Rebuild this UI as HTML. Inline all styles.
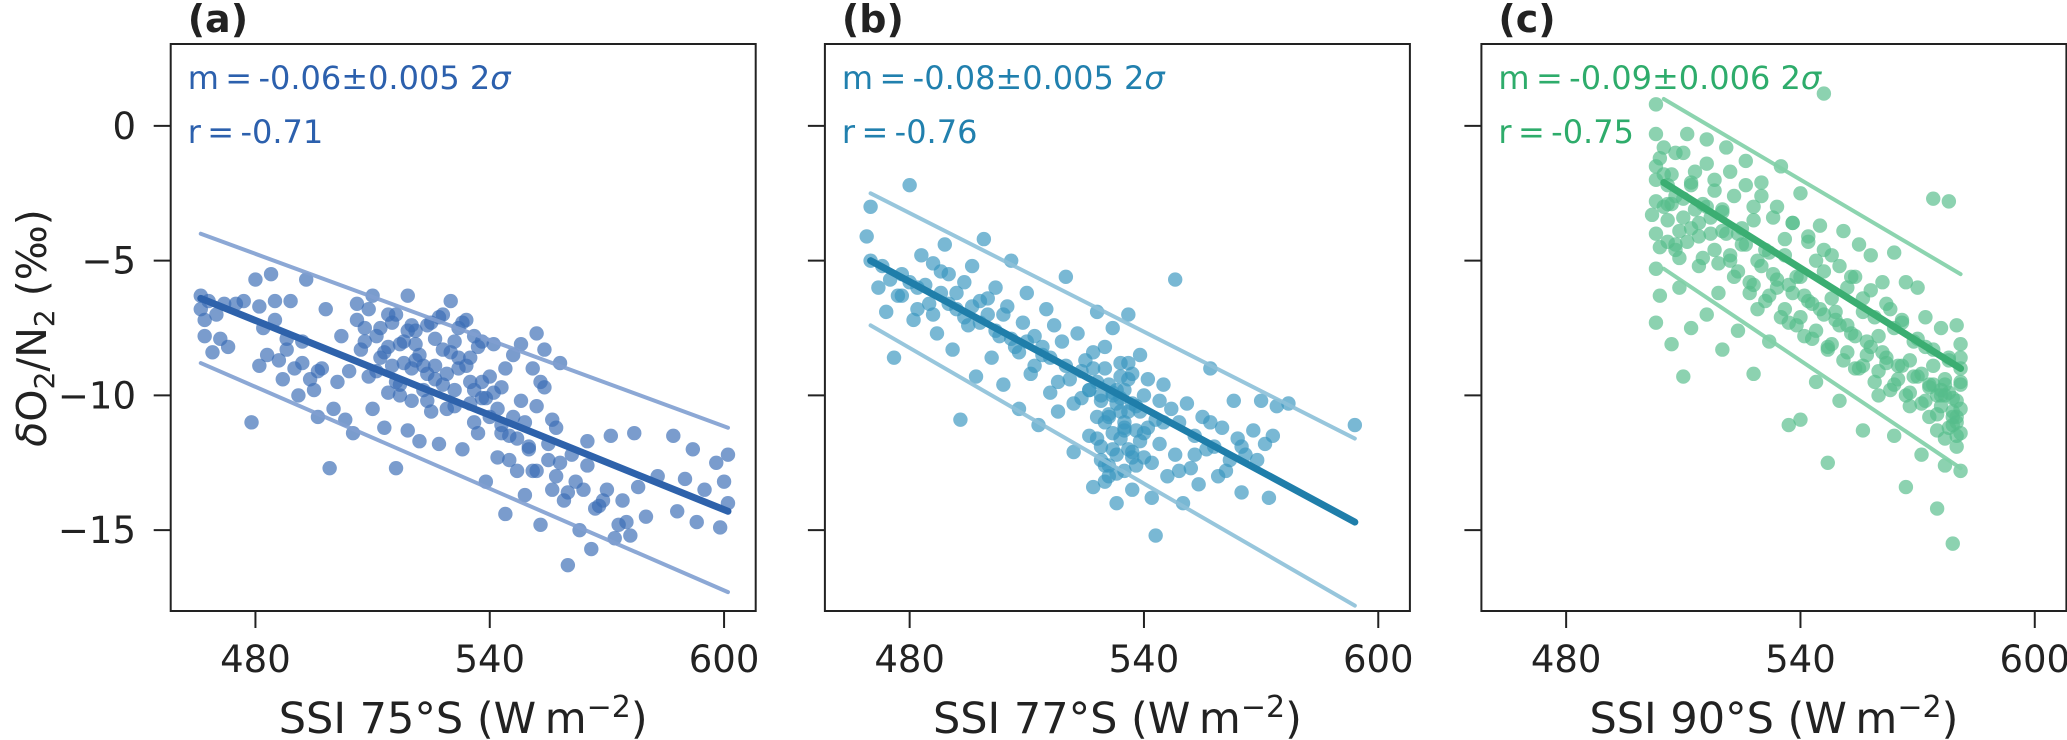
<!DOCTYPE html>
<html><head><meta charset="utf-8"><style>
html,body{margin:0;padding:0;background:#fff;}
svg{display:block;font-family:"DejaVu Sans","Liberation Sans",sans-serif;}
</style></head><body>
<svg id="chart" width="2067" height="740" viewBox="0 0 2067 740" xmlns="http://www.w3.org/2000/svg"></svg>
<script>
// ---------- data ----------
const xTicks = [480, 540, 600];
const yTicks = [0, -5, -10, -15];
const panelLabels = ["(a)", "(b)", "(c)"];
const xTitles = ["SSI 75°S", "SSI 77°S", "SSI 90°S"];
const slopeTexts = ["-0.06±0.005", "-0.08±0.005", "-0.09±0.006"];
const rTexts = ["-0.71", "-0.76", "-0.75"];

// fit lines: [x0, x1, y0, y1]
const fitA = [466, 601, -6.4, -14.3];
const upA = [466, 601, -4.0, -11.2];
const loA = [466, 601, -8.8, -17.3];
const fitB = [470, 594, -5.0, -14.7];
const upB = [470, 594, -2.5, -11.6];
const loB = [470, 594, -7.4, -17.8];
const fitC = [505, 581, -2.1, -9.0];
const upC = [505, 581, 1.0, -5.5];
const loC = [505, 581, -5.3, -12.7];

const xA = [466,466,467,467,468,469,470,471,472,473,475,477,479,480,481,481,482,483,484,485,486,487,488,489,490,491,492,493,494,495,496,497,498,499,500,501,502,503,504,505,506,507,508,509,510,510,511,512,513,514,515,516,517,518,519,519,520,521,522,523,524,525,526,527,528,529,530,531,532,533,534,535,536,537,538,539,540,541,542,543,544,545,546,547,548,549,550,551,552,553,554,555,556,557,559,560,561,563,564,565,566,567,569,571,572,574,575,576,577,578,580,583,587,588,590,592,593,595,598,599,600,601,601,
512,514,516,518,520,522,524,526,528,530,532,534,536,538,540,542,544,546,548,550,552,554,556,558,558,560,515,517,521,527,531,535,539,543,547,551,553,
506,508,509,511,513,514,516,517,519,520,521,523,524,525,526,528,529,531,532,533,535,536,537,538,541,543,545,549,552,555,557,562,565,568,570,573,485,488,492,496];
const yA = [-6.3,-6.8,-7.2,-7.8,-6.5,-8.4,-7.0,-7.9,-6.6,-8.2,-6.6,-6.5,-11.0,-5.7,-6.7,-8.9,-7.5,-8.5,-5.5,-6.5,-8.7,-9.4,-7.9,-6.5,-9.0,-10.0,-8.8,-5.7,-9.4,-9.8,-10.8,-9.0,-6.8,-12.7,-10.5,-9.5,-7.8,-10.9,-9.1,-11.4,-6.6,-8.3,-7.5,-9.3,-10.5,-6.3,-7.8,-8.6,-11.2,-9.9,-7.3,-12.7,-10.0,-8.0,-6.3,-11.3,-9.0,-7.6,-11.7,-8.9,-10.2,-7.3,-9.4,-11.8,-8.3,-10.5,-6.5,-9.8,-7.5,-12.0,-8.9,-10.3,-7.8,-11.4,-9.5,-13.2,-10.8,-8.1,-12.3,-9.7,-14.4,-11.5,-8.5,-12.8,-10.2,-13.7,-11.9,-9.0,-7.7,-14.8,-8.3,-12.4,-13.5,-11.2,-13.9,-16.3,-12.2,-15.0,-13.5,-11.7,-15.7,-14.2,-13.9,-11.5,-15.3,-13.9,-14.7,-15.2,-11.4,-13.4,-14.5,-13.0,-11.5,-14.3,-13.1,-12.0,-14.7,-13.5,-12.5,-14.9,-13.2,-12.2,-14.0,
-7.5,-8.2,-7.0,-8.8,-7.4,-8.5,-9.2,-7.9,-9.6,-8.4,-9.0,-7.2,-9.8,-8.0,-9.3,-10.5,-9.0,-10.8,-8.1,-12.0,-10.4,-9.7,-10.9,-8.8,-12.5,-13.6,-8.9,-9.6,-8.1,-7.1,-8.0,-8.6,-10.1,-11.1,-11.6,-12.8,-9.5,
-7.2,-8.0,-6.8,-9.1,-8.4,-7.0,-9.5,-8.1,-7.6,-10.2,-8.7,-9.8,-7.4,-10.6,-8.9,-7.0,-9.2,-10.4,-8.6,-7.3,-9.5,-11.0,-8.2,-10.1,-9.9,-11.4,-12.4,-11.0,-12.8,-11.8,-13.0,-13.2,-12.6,-14.1,-13.5,-14.8,-7.2,-8.3,-8.0,-9.1];

const xB = [470,469,470,472,473,474,475,476,477,478,480,481,482,483,485,486,487,488,489,490,491,492,493,494,495,496,497,498,499,500,501,502,503,504,505,506,507,508,509,510,511,512,513,514,515,516,517,518,519,520,521,522,523,524,525,526,527,527,528,528,529,530,530,531,531,532,532,533,533,534,534,535,535,536,536,537,537,538,539,540,540,541,542,543,543,544,545,546,547,548,548,549,550,551,552,553,554,555,556,557,558,559,560,562,563,564,565,566,568,570,571,572,573,574,577,594,
528,529,530,531,532,533,534,535,536,537,538,539,529,531,533,535,537,530,532,534,536,527,526,540,542,544,
478,480,482,484,486,488,490,492,494,496,498,500,502,504,506,508,510,512,514,516,518,520,522,524,526,528,529,530,531,532,533,534,535,536,537,538,539,541,545,549,553,557,561,565,569];
const yB = [-5.0,-4.1,-3.0,-6.0,-5.2,-6.9,-5.7,-8.6,-6.3,-5.5,-2.2,-7.2,-6.0,-4.8,-6.6,-5.1,-7.7,-6.2,-4.4,-5.5,-8.3,-6.8,-10.9,-5.8,-7.4,-5.2,-9.3,-6.5,-4.2,-7.0,-8.6,-6.0,-7.8,-9.6,-6.7,-5.0,-8.2,-10.5,-7.3,-6.2,-9.2,-7.8,-11.1,-8.5,-6.8,-9.9,-7.4,-10.6,-8.0,-5.6,-9.4,-12.1,-7.7,-10.1,-8.7,-11.5,-9.0,-13.4,-6.9,-10.8,-12.4,-8.2,-11.0,-13.0,-9.6,-7.5,-12.0,-10.3,-14.0,-8.8,-11.6,-9.8,-12.8,-10.6,-7.0,-13.5,-9.2,-11.3,-8.5,-12.3,-10.0,-9.4,-13.8,-10.9,-15.2,-11.8,-9.6,-13.0,-10.5,-5.7,-12.2,-11.0,-14.0,-10.3,-12.7,-11.5,-13.3,-10.8,-12.0,-9.0,-11.9,-13.0,-11.2,-12.4,-10.2,-11.6,-13.6,-12.2,-11.3,-10.2,-11.8,-13.8,-11.5,-10.4,-10.3,-11.1,
-9.5,-10.2,-9.0,-10.8,-11.4,-9.8,-10.6,-11.0,-9.4,-12.1,-10.4,-11.7,-11.9,-12.6,-12.9,-11.3,-12.3,-13.2,-10.0,-9.3,-8.8,-8.4,-9.8,-11.4,-12.5,-10.2,
-6.3,-5.8,-6.8,-5.9,-7.0,-5.4,-6.6,-6.2,-7.1,-6.7,-7.3,-6.4,-7.6,-7.0,-7.9,-8.4,-8.0,-8.9,-8.2,-8.6,-9.5,-8.9,-10.3,-9.1,-9.8,-11.6,-10.0,-12.6,-10.7,-9.9,-12.2,-10.1,-11.2,-12.0,-10.3,-12.6,-10.6,-11.2,-11.0,-12.8,-12.2,-11.0,-12.8,-11.9,-12.4];

const xC = [503,503,503,503,503,503,503,504,505,506,506,507,508,508,509,510,510,511,512,512,513,514,515,516,516,517,518,519,520,520,521,522,523,524,525,526,527,528,528,529,530,531,532,533,534,535,536,537,537,538,539,540,540,541,542,543,544,545,546,546,547,547,548,549,550,551,552,553,554,555,556,556,557,558,559,560,561,562,563,564,564,565,566,567,567,568,569,570,571,571,572,573,574,574,575,575,576,577,577,578,578,579,579,580,580,581,581,581,581,
504,505,506,507,508,509,510,512,514,516,518,520,522,524,526,528,530,532,534,536,538,540,542,544,546,548,550,552,554,556,558,560,562,564,566,568,570,572,574,576,578,580,581,580,579,578,577,576,575,574,573,572,570,568,566,564,562,560,558,556,554,552,550,548,546,544,542,540,538,536,534,532,530,528,526,524,522,520,518,516,514,512,510,508,506,
502,503,504,505,507,509,511,513,515,517,519,521,523,525,527,529,531,533,535,537,539,541,543,545,547,549,551,553,555,557,559,561,563,565,567,569,571,573,575,577,579,580,581,581,580,579,578,577,576,581];
const yC = [0.8,-0.3,-1.5,-2.8,-4.0,-5.3,-7.3,-6.3,-0.8,-2.2,-3.5,-8.1,-1.0,-4.6,-6.0,-2.7,-9.3,-0.3,-3.8,-7.5,-1.7,-5.2,-2.9,-0.5,-7.0,-4.0,-2.0,-6.2,-3.2,-8.3,-0.8,-5.0,-2.6,-7.6,-3.8,-1.3,-5.8,-9.2,-3.0,-6.8,-2.1,-4.6,-8.0,-3.4,-6.0,-1.5,-4.8,-11.1,-7.3,-3.6,-5.6,-10.9,-2.5,-7.8,-4.3,-6.6,-9.5,-3.7,1.2,-5.4,-12.5,-8.2,-4.8,-6.9,-10.2,-3.9,-7.4,-5.6,-9.0,-4.4,-11.3,-6.4,-8.5,-4.8,-7.1,-10.0,-5.8,-8.8,-6.8,-11.5,-4.7,-9.4,-7.3,-13.4,-5.8,-10.4,-8.0,-6.0,-12.2,-9.2,-7.1,-10.8,-2.7,-8.3,-14.2,-11.3,-7.5,-9.6,-12.6,-2.8,-8.7,-10.1,-15.5,-7.4,-11.5,-9.0,-12.8,-8.1,-10.5,
-1.2,-3.0,-4.3,-1.8,-2.6,-4.9,-3.4,-2.2,-4.1,-3.0,-4.6,-3.9,-4.8,-5.4,-4.4,-5.9,-5.2,-6.3,-5.7,-6.8,-6.2,-7.1,-6.5,-7.6,-7.0,-8.1,-7.4,-8.4,-7.8,-8.9,-8.2,-9.1,-8.6,-9.6,-8.9,-9.9,-9.3,-10.2,-9.6,-10.4,-9.9,-10.8,-9.5,-11.0,-10.6,-8.6,-11.6,-9.8,-10.0,-8.9,-9.7,-8.2,-7.9,-8.7,-7.2,-7.5,-6.6,-7.8,-6.1,-6.9,-5.6,-6.0,-5.2,-6.4,-4.6,-5.0,-4.1,-5.6,-3.6,-4.2,-3.0,-4.7,-2.6,-3.5,-2.2,-4.0,-1.7,-3.1,-2.4,-1.4,-3.6,-2.1,-1.0,-4.4,-2.9,
-3.3,-2.0,-4.5,-1.8,-2.9,-3.9,-4.3,-3.1,-4.9,-3.4,-5.1,-4.0,-5.6,-4.4,-6.2,-5.0,-6.5,-5.5,-7.1,-5.9,-7.4,-6.3,-7.9,-6.8,-8.3,-7.2,-8.7,-7.7,-9.0,-8.0,-9.5,-8.4,-9.8,-8.9,-10.0,-9.3,-10.3,-9.6,-10.7,-10.0,-11.1,-10.2,-11.4,-9.6,-11.9,-10.8,-11.2,-9.4,-10.0,-8.6];

// ---------- layout ----------
const NS = "http://www.w3.org/2000/svg";
const svg = document.getElementById("chart");
const panelLeft = [170.7, 824.9, 1481.4];
const plotTop = 44, plotBot = 611, plotW = 585;
const xMin = 458.3, xMax = 608.1, yMin = -18.0, yMax = 3.04;
const ptColors = ["#3b6db5", "#3a96c0", "#55bd8a"];
const lineColors = ["#2e62ab", "#1f7eaa", "#3bae72"];
const bandColors = ["#7f9fd0", "#8cc0d8", "#7fcfa6"];
const textColors = ["#2c60ad", "#2180ae", "#2eac6b"];
const xs = [xA, xB, xC], ys = [yA, yB, yC];
const fits = [fitA, fitB, fitC], ups = [upA, upB, upC], los = [loA, loB, loC];
const slugs = ["a", "b", "c"];

function mk(tag, attrs, parent) {
  const e = document.createElementNS(NS, tag);
  for (const k in attrs) e.setAttribute(k, attrs[k]);
  (parent || svg).appendChild(e);
  return e;
}
function sx(p, v) { return panelLeft[p] + (v - xMin) / (xMax - xMin) * plotW; }
function sy(v) { return plotBot - (v - yMin) / (yMax - yMin) * (plotBot - plotTop); }

for (let p = 0; p < 3; p++) {
  const g = mk("g", {});
  
  

  const clipId = "clip" + p;
  const cp = mk("clipPath", { id: clipId }, g);
  mk("rect", { x: panelLeft[p], y: plotTop, width: plotW, height: plotBot - plotTop }, cp);

  const pg = mk("g", { "clip-path": "url(#" + clipId + ")" }, g);
  
  
  for (let i = 0; i < xs[p].length; i++) {
    const c = mk("circle", { cx: sx(p, xs[p][i]), cy: sy(ys[p][i]), r: 7.2, fill: ptColors[p], "fill-opacity": 0.68 }, pg);
    
    
  }
  [ups[p], los[p]].forEach((L, k) => {
    const l = mk("line", { x1: sx(p, L[0]), x2: sx(p, L[1]), y1: sy(L[2]), y2: sy(L[3]), stroke: bandColors[p], "stroke-width": 4, "stroke-linecap": "round", "stroke-opacity": 0.9 }, g);
    
    
  });
  const F = fits[p];
  const fl = mk("line", { x1: sx(p, F[0]), x2: sx(p, F[1]), y1: sy(F[2]), y2: sy(F[3]), stroke: lineColors[p], "stroke-width": 7, "stroke-linecap": "round" }, g);
  
  

  const fr = mk("rect", { x: panelLeft[p], y: plotTop, width: plotW, height: plotBot - plotTop, fill: "none", stroke: "#222", "stroke-width": 2 }, g);
  
  

  xTicks.forEach(t => {
    const x = sx(p, t);
    const tk = mk("line", { x1: x, x2: x, y1: plotBot, y2: plotBot + 17, stroke: "#222", "stroke-width": 2 }, g);
    
    
    const tl = mk("text", { x: x, y: 672, "text-anchor": "middle", "font-size": 37, fill: "#222" }, g);
    tl.textContent = String(t);
    
    
  });
  yTicks.forEach(t => {
    const y = sy(t);
    const tk = mk("line", { x1: panelLeft[p] - 17, x2: panelLeft[p], y1: y, y2: y, stroke: "#222", "stroke-width": 2 }, g);
    
    
    if (p === 0) {
      const tl = mk("text", { x: 136, y: y + 13, "text-anchor": "end", "font-size": 37, fill: "#222" }, g);
      tl.textContent = t < 0 ? "\u2212" + Math.abs(t) : String(t);
      
      
    }
  });

  const xt = mk("text", { x: panelLeft[p] + plotW / 2, y: 733, "text-anchor": "middle", "font-size": 43, fill: "#222" }, g);
  
  
  xt.textContent = xTitles[p] + " (W\u2009m";
  const sup = mk("tspan", { dy: -16, "font-size": 30 }, xt);
  sup.textContent = "\u22122";
  const cl = mk("tspan", { dy: 16 }, xt);
  cl.textContent = ")";

  const pl = mk("text", { x: panelLeft[p] + 17, y: 32, "font-size": 38, "font-weight": "bold", fill: "#222" }, g);
  pl.textContent = panelLabels[p];
  
  

  const m = mk("text", { x: panelLeft[p] + 17, y: 89, "font-size": 32, fill: textColors[p] }, g);
  
  
  m.textContent = "m\u2009=\u2009" + slopeTexts[p] + " 2";
  const sg = mk("tspan", { "font-style": "italic" }, m);
  sg.textContent = "σ";
  const r = mk("text", { x: panelLeft[p] + 17, y: 143, "font-size": 32, fill: textColors[p] }, g);
  
  
  r.textContent = "r\u2009=\u2009" + rTexts[p];
}

const yt = mk("text", { x: 0, y: 0, transform: "translate(46,328) rotate(-90)", "text-anchor": "middle", "font-size": 41, fill: "#222" });


const d = mk("tspan", { "font-style": "italic" }, yt); d.textContent = "δ";
const t1 = mk("tspan", {}, yt); t1.textContent = "O";
const s1 = mk("tspan", { dy: 8, "font-size": 28 }, yt); s1.textContent = "2";
const t2 = mk("tspan", { dy: -8 }, yt); t2.textContent = "/N";
const s2 = mk("tspan", { dy: 8, "font-size": 28 }, yt); s2.textContent = "2";
const t3 = mk("tspan", { dy: -8 }, yt); t3.textContent = " (‰)";
</script>
</body></html>
